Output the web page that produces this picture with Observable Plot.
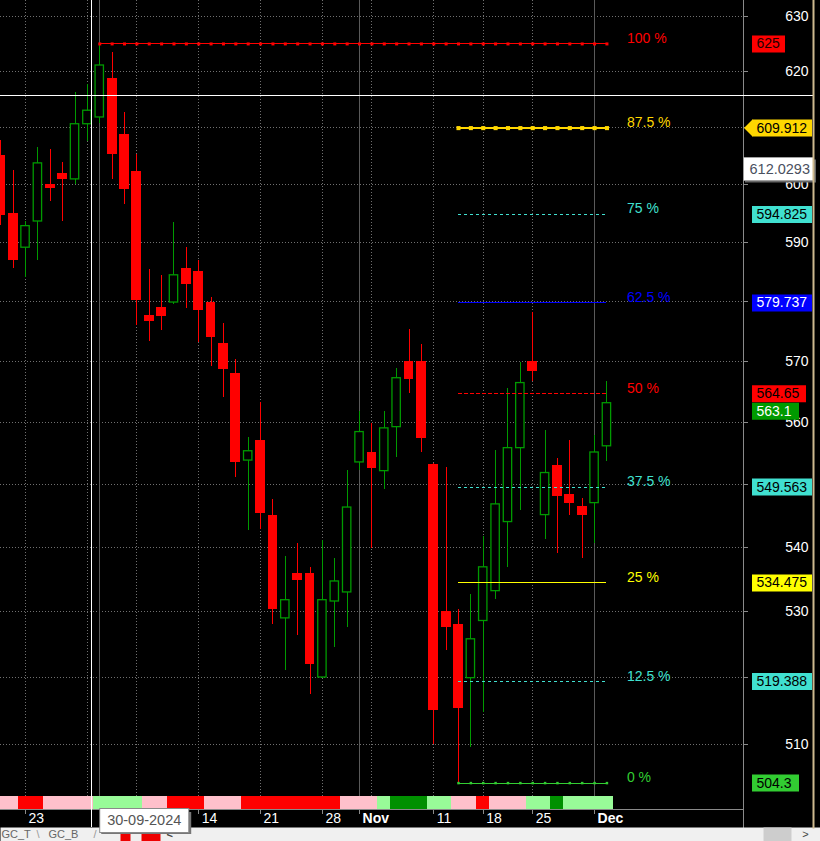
<!DOCTYPE html>
<html>
<head>
<meta charset="utf-8">
<script src="https://cdn.jsdelivr.net/npm/d3@7"></script>
<script src="https://cdn.jsdelivr.net/npm/@observablehq/plot@0.6"></script>
<style>
html, body { margin: 0; padding: 0; background: #000; }
#chart { width: 820px; height: 841px; overflow: hidden; }
</style>
</head>
<body>
<div id="chart"></div>
<script>
// ---------- data ----------
const dates = ["19-09-2024","20-09-2024","23-09-2024","24-09-2024","25-09-2024","26-09-2024","27-09-2024","30-09-2024",
  "01-10-2024","03-10-2024","04-10-2024","07-10-2024","08-10-2024","09-10-2024","10-10-2024","11-10-2024","14-10-2024",
  "15-10-2024","16-10-2024","17-10-2024","18-10-2024","21-10-2024","22-10-2024","23-10-2024","24-10-2024","25-10-2024",
  "28-10-2024","29-10-2024","30-10-2024","01-11-2024","04-11-2024","05-11-2024","06-11-2024","07-11-2024","08-11-2024",
  "11-11-2024","12-11-2024","13-11-2024","14-11-2024","18-11-2024","19-11-2024","21-11-2024","22-11-2024","25-11-2024",
  "26-11-2024","27-11-2024","28-11-2024","29-11-2024","02-12-2024","03-12-2024"];
const opens  = [605.1,595.0,589.1,593.6,600.0,601.9,600.9,610.6,611.8,618.8,608.8,602.3,577.6,579.0,579.8,585.6,585.1,
  579.8,573.0,568.0,553.8,557.1,545.1,529.0,536.0,536.0,520.0,531.6,533.0,553.5,555.1,552.1,559.2,570.0,570.0,
  553.2,530.1,528.1,519.9,528.6,533.2,544.0,555.8,570.0,545.1,553.0,548.3,546.5,547.0,556.1];
const highs  = [607.7,602.5,593.6,606.5,606.2,603.9,616.3,617.7,625.0,623.5,612.7,605.3,585.4,584.4,593.4,589.1,586.9,
  580.7,576.3,570.3,557.5,563.2,547.5,538.6,540.7,536.8,541.1,538.2,552.2,561.8,559.8,561.8,568.8,575.3,572.8,
  553.4,552.7,530.4,532.7,541.8,555.5,565.5,569.8,578.1,558.7,554.2,557.1,547.8,557.9,566.7];
const lows   = [592.9,585.6,584.0,586.9,597.1,593.6,600.0,607.6,610.7,600.9,596.6,576.0,573.3,575.1,579.5,578.8,573.1,
  569.2,564.1,551.1,542.7,542.9,528.1,521.1,526.4,517.5,519.8,524.6,527.6,552.2,539.9,549.1,554.3,564.7,555.1,
  510.0,524.1,504.3,509.6,514.8,531.9,536.9,545.9,566.7,541.2,539.1,545.1,538.3,540.7,553.7];
const closes = [594.7,586.9,592.8,603.7,599.3,600.9,610.6,613.0,621.1,605.3,599.1,580.2,576.6,577.5,584.4,582.9,578.5,
  574.0,568.7,553.5,555.3,545.4,530.3,531.8,534.9,521.9,531.8,534.7,546.3,558.4,552.6,559.0,567.2,567.0,557.4,
  515.1,527.6,515.4,525.8,536.9,546.8,555.8,566.4,568.3,551.8,548.1,547.0,545.1,555.1,563.1];
// bottom status strip state per bar: P pink, R red, L light green, G dark green
const stripState = ["P","P","R","R","P","P","P","P","L","L","L","L","P","P","R","R","R","P","P","P",
  "R","R","R","R","R","R","R","R","P","P","P","L","G","G","G","L","L","P","P","R",
  "P","P","P","L","L","G","L","L","L","L"];
const stripColors = {P: "#ffc0cb", R: "#ff0000", L: "#98fb98", G: "#009000"};

// x-axis labels
const xTickIndex = [2, 16, 21, 26, 29, 35, 39, 43, 48];
const xTickLabel = ["23", "14", "21", "28", "Nov", "11", "18", "25", "Dec"];
const xTickBold  = [false, false, false, false, true, false, false, false, true];
const weekStarts = [2, 7, 11, 16, 21, 26, 30, 35, 39, 43];
const monthStarts = [8, 29, 48];
// y-axis ticks (labels hidden behind price boxes are not drawn)
const yTicks = [510, 520, 530, 540, 550, 560, 570, 580, 590, 600, 610, 620, 630];
const yTickLabels = [510, 530, 540, 560, 570, 590, 600, 620, 630];

// Fibonacci levels
const fibPct   = ["100 %", "87.5 %", "75 %", "62.5 %", "50 %", "37.5 %", "25 %", "12.5 %", "0 %"];
const fibVal   = [625, 609.912, 594.825, 579.737, 564.65, 549.563, 534.475, 519.388, 504.3];
const fibText  = ["625", "609.912", "594.825", "579.737", "564.65", "549.563", "534.475", "519.388", "504.3"];
const fibColor = ["#ff0000", "#ffd700", "#40e0d0", "#0000ff", "#ff0000", "#40e0d0", "#ffff00", "#40e0d0", "#32cd32"];
const fibBoxInk = ["#200000", "#000", "#000", "#fff", "#000", "#000", "#000", "#000", "#000"];
const fibStart = [8, 37, 37, 37, 37, 37, 37, 37, 37];
const fibEnd = 49;
const fibDash  = [null, null, "3,3", null, "4,2", "3,3", null, "3,3", null];
const fibWidth = [1, 2, 1, 1, 1, 1, 1, 1, 1];
const fibMarkR = [1.7, 2.3, 0, 0, 0, 0, 0, 0, 1.4];

// last price and cursor
const lastPrice = [563.1];
const lastPriceText = ["563.1"];
const cursorIndex = [7.35];
const cursorPrice = [615.8];
const cursorReadout = [602.7];
const cursorReadoutText = ["612.0293"];
const tabs = ["GC_T", "GC_B"];

// ---------- build ----------
const candles = dates.map((d, i) => ({i, date: d, open: opens[i], high: highs[i], low: lows[i], close: closes[i], up: closes[i] >= opens[i]}));
const ups = candles.filter(d => d.up), downs = candles.filter(d => !d.up);
const strip = stripState.map((s, i) => ({i, fill: stripColors[s]}));
const RED = "#ff0000", GREEN = "#009a00";
const FONT = "'Liberation Sans', Arial, sans-serif";
const CRISP = "crispEdges";

const fibs = fibVal.map((v, k) => ({k, v, pct: fibPct[k], text: fibText[k], color: fibColor[k], ink: fibBoxInk[k],
  start: fibStart[k], dash: fibDash[k], w: fibWidth[k], r: fibMarkR[k]}));
const markers = [];
fibs.forEach(f => { if (f.r > 0) for (let i = f.start; i <= fibEnd; i++) markers.push({i, v: f.v, color: f.color, r: f.r}); });

function boxWidth(s) { return Math.min(60, 12 + 7 * s.length); }
const leftArrow = { draw(ctx) { ctx.moveTo(-8.5, 0); ctx.lineTo(0, -8.5); ctx.lineTo(0, 8.5); ctx.closePath(); } };

const marks = [];
// grid
marks.push(Plot.ruleY(yTicks, {stroke: "#707070", strokeDasharray: "1,2", shapeRendering: CRISP}));
marks.push(Plot.ruleX(weekStarts, {stroke: "#707070", strokeDasharray: "1,2", shapeRendering: CRISP}));
marks.push(Plot.ruleX(monthStarts, {stroke: "#5a5a5a", shapeRendering: CRISP}));
// candles
marks.push(Plot.ruleX(candles, {x: "i", y1: "low", y2: "high", stroke: d => d.up ? GREEN : RED, strokeWidth: 1, shapeRendering: CRISP}));
marks.push(Plot.rect(downs, {x1: d => d.i - 0.5, x2: d => d.i + 0.5, y1: "open", y2: "close", insetLeft: 1.3, insetRight: 1.3, fill: RED, shapeRendering: CRISP}));
marks.push(Plot.rect(ups, {x1: d => d.i - 0.5, x2: d => d.i + 0.5, y1: "open", y2: "close", insetLeft: 2, insetRight: 2, fill: "#000", stroke: GREEN, strokeWidth: 1.3}));
// fib lines
fibs.forEach(f => {
  marks.push(Plot.ruleY([f], {y: "v", x1: "start", x2: () => fibEnd, stroke: f.color, strokeWidth: f.w, strokeDasharray: f.dash || undefined, shapeRendering: CRISP}));
});
marks.push(Plot.dot(markers, {x: "i", y: "v", symbol: "square", r: "r", fill: "color", stroke: "none"}));
// bottom strip
marks.push(Plot.rect(strip, {x1: d => d.i - 0.5, x2: d => d.i + 0.5, fill: "fill", insetTop: 796, insetLeft: -0.4, insetRight: -0.4, shapeRendering: CRISP}));
// axes
marks.push(Plot.frame({anchor: "bottom", stroke: "#8a8a8a", shapeRendering: CRISP}));
marks.push(Plot.frame({anchor: "right", stroke: "#8a8a8a", insetBottom: -18, shapeRendering: CRISP}));
marks.push(Plot.ruleX(xTickIndex, {stroke: "#8a8a8a", insetTop: 809, insetBottom: -5, shapeRendering: CRISP}));
const xt = xTickIndex.map((i, k) => ({i, label: xTickLabel[k], bold: xTickBold[k]}));
marks.push(Plot.text(xt.filter(d => !d.bold), {x: "i", text: "label", frameAnchor: "bottom", dx: 3, dy: 9, textAnchor: "start", lineAnchor: "middle", fill: "#fff", fontSize: 14}));
marks.push(Plot.text(xt.filter(d => d.bold), {x: "i", text: "label", frameAnchor: "bottom", dx: 3, dy: 9, textAnchor: "start", lineAnchor: "middle", fill: "#fff", fontSize: 14, fontWeight: "bold"}));
marks.push(Plot.ruleY(yTicks, {stroke: "#8a8a8a", insetLeft: 743, insetRight: -5, shapeRendering: CRISP}));
marks.push(Plot.text(yTickLabels, {y: d => d, text: d => String(d), frameAnchor: "right", dx: 65, textAnchor: "end", lineAnchor: "middle", fill: "#fff", fontSize: 14}));
// level labels
marks.push(Plot.text(fibs, {x: () => fibEnd, y: "v", text: "pct", dx: 20, dy: -5.5, textAnchor: "start", lineAnchor: "middle", fill: "color", fontSize: 14}));
// price boxes
fibs.forEach(f => {
  const w = boxWidth(f.text);
  marks.push(Plot.ruleY([f.v], {stroke: f.color, strokeWidth: 17, insetLeft: 752, insetRight: -(9 + w)}));
  marks.push(Plot.text([f.v], {y: d => d, text: () => f.text, frameAnchor: "right", dx: 13, textAnchor: "start", lineAnchor: "middle", fill: f.ink, fontSize: 14}));
});
marks.push(Plot.dot([fibVal[1]], {y: d => d, frameAnchor: "right", dx: 9, symbol: leftArrow, r: 3, fill: fibColor[1], stroke: "none"}));
// last price box (offset below the 50% box)
marks.push(Plot.ruleY(lastPrice, {stroke: GREEN, strokeWidth: 17, dy: 8, insetLeft: 752, insetRight: -(9 + boxWidth(lastPriceText[0]))}));
marks.push(Plot.text(lastPrice, {y: d => d, text: (d, i) => lastPriceText[i], frameAnchor: "right", dx: 13, dy: 8, textAnchor: "start", lineAnchor: "middle", fill: "#fff", fontSize: 14}));
// cursor
marks.push(Plot.ruleX(cursorIndex, {stroke: "#fff", insetBottom: -18, shapeRendering: CRISP}));
marks.push(Plot.ruleY(cursorPrice, {stroke: "#fff", insetRight: -70, shapeRendering: CRISP}));
marks.push(Plot.ruleY(cursorReadout, {stroke: "#666", strokeWidth: 23, dx: 2, dy: 2, insetLeft: 743, insetRight: -71}));
marks.push(Plot.ruleY(cursorReadout, {stroke: "#a0a0a0", strokeWidth: 24, insetLeft: 743, insetRight: -71}));
marks.push(Plot.ruleY(cursorReadout, {stroke: "#fff", strokeWidth: 22, insetLeft: 744, insetRight: -70}));
marks.push(Plot.text(cursorReadout, {y: d => d, text: (d, i) => cursorReadoutText[i], frameAnchor: "right", dx: 6, textAnchor: "start", lineAnchor: "middle", fill: "#4a5060", fontSize: 14.5}));
// bottom bar
marks.push(Plot.frame({fill: "#f0f0f0", stroke: "none", insetTop: 827, insetBottom: -32, insetRight: -77}));
marks.push(Plot.frame({fill: "#cdcdcd", stroke: "none", insetTop: 827, insetBottom: -32, insetLeft: 763, insetRight: -48}));
marks.push(Plot.frame({fill: "#ee0000", stroke: "none", insetTop: 831, insetBottom: -32, insetLeft: 120, insetRight: 613}));
marks.push(Plot.frame({fill: "#ee0000", stroke: "none", insetTop: 831, insetBottom: -32, insetLeft: 141, insetRight: 583}));
marks.push(Plot.text([tabs[0]], {frameAnchor: "bottom-left", text: d => d, dx: 1, dy: 25, textAnchor: "start", lineAnchor: "middle", fill: "#666", fontSize: 11}));
marks.push(Plot.text(["\\"], {frameAnchor: "bottom-left", text: d => d, dx: 36, dy: 25, textAnchor: "start", lineAnchor: "middle", fill: "#999", fontSize: 11}));
marks.push(Plot.text([tabs[1]], {frameAnchor: "bottom-left", text: d => d, dx: 48, dy: 25, textAnchor: "start", lineAnchor: "middle", fill: "#666", fontSize: 11}));
marks.push(Plot.text(["/"], {frameAnchor: "bottom-left", text: d => d, dx: 93, dy: 25, textAnchor: "start", lineAnchor: "middle", fill: "#999", fontSize: 11}));
marks.push(Plot.text(["<"], {frameAnchor: "bottom-left", text: d => d, dx: 166, dy: 25, textAnchor: "start", lineAnchor: "middle", fill: "#444", fontSize: 11, fontWeight: "bold"}));
marks.push(Plot.text([">"], {frameAnchor: "bottom-right", text: d => d, dx: 62, dy: 25, textAnchor: "middle", lineAnchor: "middle", fill: "#444", fontSize: 11}));
// tooltip date box
marks.push(Plot.ruleX(cursorIndex, {stroke: "#777", strokeWidth: 90, dx: 54.5, dy: 2, insetTop: 810, insetBottom: -23}));
marks.push(Plot.ruleX(cursorIndex, {stroke: "#8a8a8a", strokeWidth: 90, dx: 52.5, insetTop: 808, insetBottom: -24}));
marks.push(Plot.ruleX(cursorIndex, {stroke: "#fff", strokeWidth: 88, dx: 52.5, insetTop: 809, insetBottom: -23}));
marks.push(Plot.text(cursorIndex, {x: d => d, text: () => dates[Math.floor(cursorIndex[0])], frameAnchor: "bottom", dx: 52.5, dy: 11, textAnchor: "middle", lineAnchor: "middle", fill: "#555", fontSize: 14.5}));
// right border
marks.push(Plot.frame({anchor: "right", stroke: "#cdb98f", strokeWidth: 2, insetRight: -70, insetBottom: -18}));

const chart = Plot.plot({
  width: 820,
  height: 841,
  marginLeft: 0,
  marginRight: 77,
  marginTop: 0,
  marginBottom: 32,
  style: {background: "#000", fontFamily: FONT, overflow: "visible"},
  x: {type: "linear", domain: [-0.024, 60.04], axis: null},
  y: {type: "log", domain: [500.45, 632.93], axis: null},
  color: {type: "identity"},
  r: {type: "identity"},
  marks
});
document.getElementById("chart").appendChild(chart);
</script>
</body>
</html>
